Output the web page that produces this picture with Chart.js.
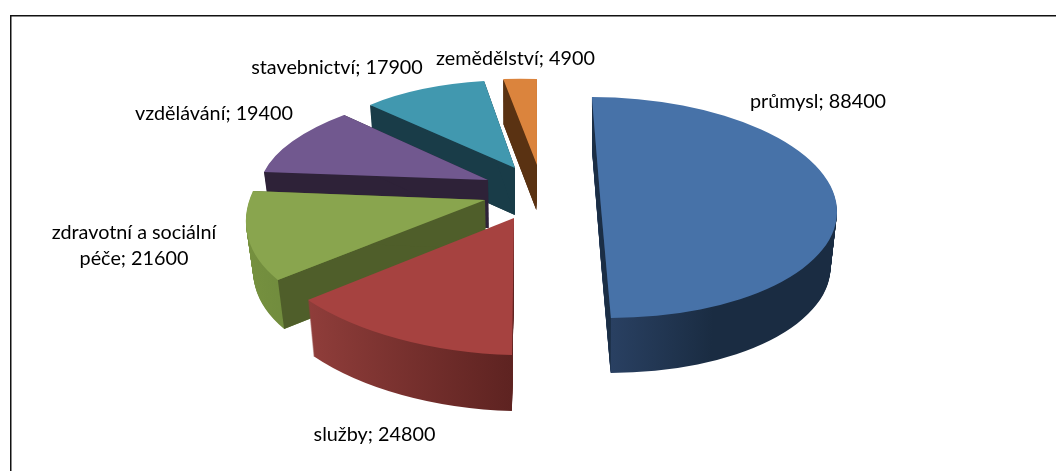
<!DOCTYPE html>
<html><head><meta charset="utf-8">
<style>html,body{margin:0;padding:0;background:#fff}canvas{display:block}</style>
<script src="https://cdn.jsdelivr.net/npm/chart.js@4/dist/chart.umd.min.js"></script>
</head><body>
<canvas id="c" width="1056" height="471"></canvas>
<script>
const categories = ['průmysl','služby','zdravotní a sociální péče','vzdělávání','stavebnictví','zemědělství'];
const values = [88400,24800,21600,19400,17900,4900];
const topColors = ['#4772a8','#a64240','#89a54e','#71588f','#4198af','#db843d'];
const cutColors = ['#1b2e45','#6a2826','#4f5e2a','#2e2238','#193c48','#5a3212'];
const rimLeft  = ['#2c4468','#8f3d3a','#76913f','#2e2238','#193c48','#5a3212'];
const rimRight = ['#1a2c42','#5e2321','#65803a','#2e2238','#193c48','#5a3212'];
const rimDarkAt = [0.5,1,1,1,1,1];
const showCutFaces = [true,false,true,true,true,true];

// per-slice 3D projection of the unit pie: matrix a,b,c,d, origin ox,oy, wall height h, vanishing x vx
const projection = [
  {a:236,  b:4.5, c:-0.4, d:110.3, ox:601, oy:207.5, h:55, vx:600},
  {a:265.4,b:12.8,c:-13.6,d:136.5, ox:514, oy:218,   h:56, vx:510},
  {a:233.8,b:4.9, c:-50.1,d:124.8, ox:485, oy:200,   h:49, vx:510},
  {a:225.4,b:4.9, c:-38.3,d:92.9,  ox:488, oy:180,   h:48, vx:510},
  {a:204.3,b:7.0, c:-12.8,d:87.5,  ox:515, oy:168,   h:47, vx:510},
  {a:195,  b:10.9,c:-7.8, d:85.6,  ox:537, oy:165,   h:45, vx:510}
];
const paintOrder = [0,5,4,3,2,1];
const wallShrink = 0.027;
const labelPlacement = [
  {x:818,y:102,lines:1},{x:374.5,y:435,lines:1},{x:134,y:233,lines:2},
  {x:214,y:114,lines:1},{x:337,y:68,lines:1},{x:515.5,y:59,lines:1}
];

function labelLines(i){
  const text = categories[i] + '; ' + values[i];
  if (labelPlacement[i].lines === 1) return [text];
  const cut = text.lastIndexOf(' ', text.indexOf(';'));
  return [text.slice(0,cut), text.slice(cut+1)];
}

const pie3d = {
  id:'pie3d',
  beforeDatasetsDraw(chart){
    const ctx = chart.ctx, els = chart.getDatasetMeta(0).data;
    ctx.save();
    ctx.fillStyle = '#111';
    ctx.fillRect(10,15,1046,1.5);
    ctx.fillRect(10,15,1.5,456);
    ctx.restore();

    const place = (p,t) => {
      const k = 1 - wallShrink*t;
      ctx.setTransform(k,0,0,1,p.vx*(1-k),p.h*t);
    };
    const toUnit = (p,el) => {
      const R = el.outerRadius;
      ctx.transform(p.a/R,p.b/R,p.c/R,p.d/R,p.ox,p.oy);
      ctx.translate(-el.x,-el.y);
    };
    paintOrder.forEach(i=>{
      const el = els[i], p = projection[i], R = el.outerRadius;
      const xs = [Math.cos(el.startAngle),Math.cos(el.endAngle)];
      const g = ctx.createLinearGradient(el.x+R*Math.min(...xs,0),0,el.x+R*Math.max(...xs,i===0?1:0),0);
      g.addColorStop(0,rimLeft[i]); g.addColorStop(rimDarkAt[i],rimRight[i]); g.addColorStop(1,rimRight[i]);
      const rim = Object.create(el);
      rim.options = Object.assign({},el.options,{backgroundColor:g,borderWidth:0});
      for(let n=Math.ceil(p.h);n>=1;n--){
        ctx.save();
        place(p,n/p.h); toUnit(p,el);
        rim.draw(ctx);
        ctx.restore();
      }
      const corner=(ang,t)=>{
        const ux=Math.cos(ang),uy=Math.sin(ang),k=1-wallShrink*t;
        const X=p.ox+p.a*ux+p.c*uy,Y=p.oy+p.b*ux+p.d*uy;
        return [p.vx+(X-p.vx)*k,Y+p.h*t];
      };
      const apex=t=>{const k=1-wallShrink*t;return [p.vx+(p.ox-p.vx)*k,p.oy+p.h*t];};
      if(showCutFaces[i]){
        ctx.save();
        ctx.fillStyle=cutColors[i];
        [el.startAngle,el.endAngle].forEach(ang=>{
          const q=[apex(0),corner(ang,0),corner(ang,1),apex(1)];
          ctx.beginPath();ctx.moveTo(q[0][0],q[0][1]);
          for(let m=1;m<4;m++)ctx.lineTo(q[m][0],q[m][1]);
          ctx.closePath();ctx.fill();
        });
        ctx.restore();
      }
      ctx.save();
      ctx.setTransform(1,0,0,1,0,0);
      toUnit(p,el);
      const top = Object.create(el);
      top.options = Object.assign({},el.options,{borderWidth:0});
      top.draw(ctx);
      ctx.restore();
    });
    return false;
  },
  afterDraw(chart){
    const ctx=chart.ctx;
    ctx.save();
    ctx.font='19.8px Lato';
    ctx.fillStyle='#000';
    ctx.textAlign='center';
    ctx.textBaseline='middle';
    labelPlacement.forEach((l,i)=>{
      labelLines(i).forEach((s,n)=>ctx.fillText(s,l.x,l.y+n*26));
    });
    ctx.restore();
  }
};

new Chart(document.getElementById('c'),{
  type:'pie',
  data:{labels:categories,datasets:[{data:values,backgroundColor:topColors,borderWidth:0}]},
  options:{
    responsive:false,animation:false,rotation:-2.3,
    plugins:{legend:{display:false},tooltip:{enabled:false}}
  },
  plugins:[pie3d]
});
</script>
</body></html>
